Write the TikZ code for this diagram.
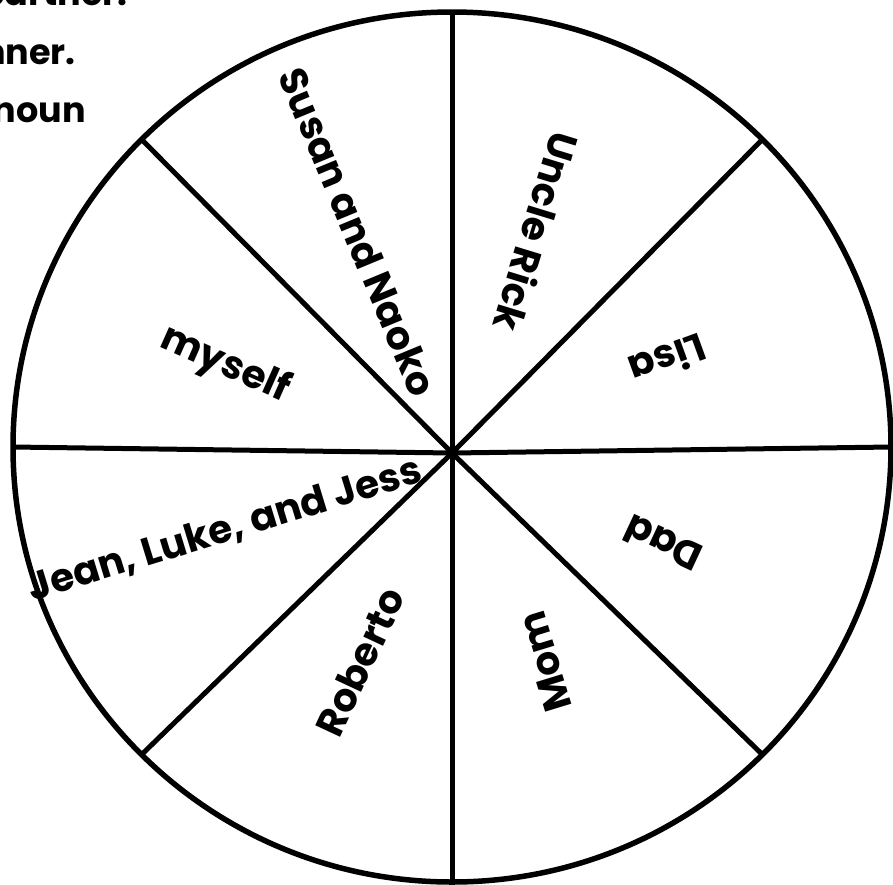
\documentclass[tikz,border=0pt]{standalone}
\usepackage{fontspec}
\setmainfont{Poppins}
\usetikzlibrary{calc}
\begin{document}
\begin{tikzpicture}[x=1pt,y=-1pt,
  rim/.style={line width=5.5pt},
  spoke/.style={line width=5pt},
  lbl/.style={font=\fontsize{39}{44}\selectfont\bfseries, inner sep=0pt},
  toptext/.style={font=\fontsize{35}{40}\selectfont\bfseries, inner sep=0pt, anchor=base east}]
\useasboundingbox (0,0) rectangle (893,884);
\begin{scope}
\clip (0,0) rectangle (893,884);
\fill[white] (0,0) rectangle (893,884);
% instructions text (cut off at the left)
\node[toptext] (t1) at (128,5) {partner.};
\node[toptext] (t2) at (76,64) {nner.};
\node[toptext] (t3) at (86,122) {noun};
% wheel
\coordinate (ec) at (452,447);
\coordinate (hub) at (452,453);
\foreach \a in {0,45,...,315}
  \draw[spoke] (hub) -- ($(ec)+(\a:439 and 435)$);
\draw[rim] (ec) ellipse [x radius=439, y radius=435];
% labels
\node[lbl, rotate=-67.5] (susan) at (358,232) {Susan and Naoko};
\node[lbl, rotate=-107] (rick) at (537,232) {Uncle Rick};
\node[lbl, rotate=-160] (lisa) at (668,360) {Lisa};
\node[lbl, rotate=155] (dad) at (663,543) {Dad};
\node[lbl, rotate=107] (mom) at (545,662) {Mom};
\node[lbl, rotate=65] (roberto) at (360,662) {Roberto};
\node[lbl, rotate=17] (jean) at (225,530) {Jean, Luke, and Jess};
\node[lbl, rotate=-24] (myself) at (225,365) {myself};
\end{scope}
\end{tikzpicture}
\end{document}
